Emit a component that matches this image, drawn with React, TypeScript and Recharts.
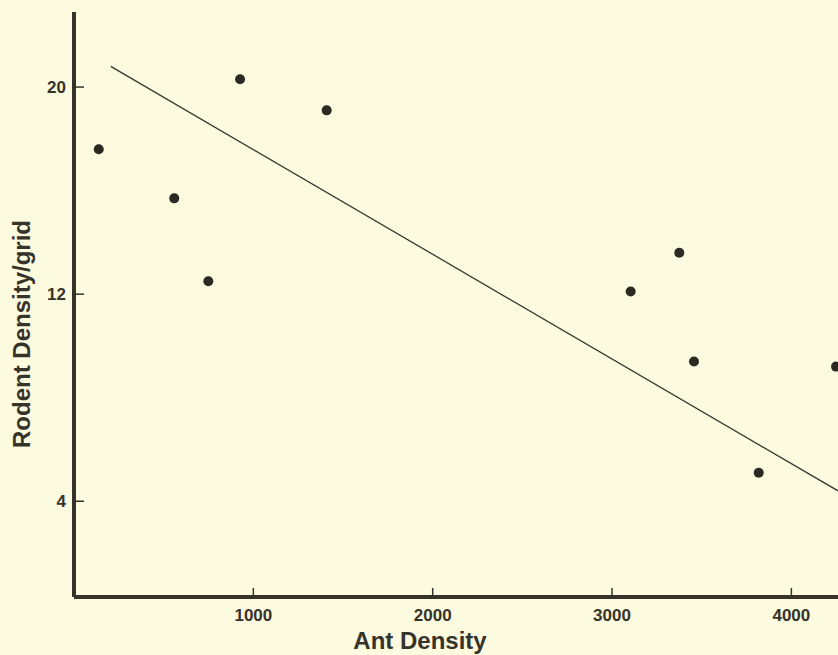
import React from 'react';
import {
  ComposedChart,
  Scatter,
  Line,
  XAxis,
  YAxis,
  Label,
} from 'recharts';

// field observations (ants per plot vs rodents per grid)
const antDensity = [138, 559, 749, 926, 1409, 3104, 3375, 3457, 3818, 4249];
const rodentDensity = [17.6, 15.7, 12.5, 20.3, 19.1, 12.1, 13.6, 9.4, 5.1, 9.2];

// fitted regression line end points
const fitX = [205, 4260];
const fitY = [20.8, 4.4];

const xTicks = [1000, 2000, 3000, 4000];
const yTicks = [4, 12, 20];

const points = antDensity.map((x, i) => ({ x, y: rodentDensity[i] }));
const fitLine = fitX.map((x, i) => ({ x, y: fitY[i] }));

const INK = '#36332a';
const BG = '#fcfadf';
const FONT = '"Liberation Sans", Arial, Helvetica, sans-serif';

const XTick = (props: any) => {
  const { x, y, payload } = props;
  return (
    <g>
      <line x1={x} y1={y} x2={x} y2={y - 11} stroke={INK} strokeWidth={1.5} />
      <text x={x} y={y + 22} textAnchor="middle" fontSize={17} fontWeight={700} fill={INK} fontFamily={FONT}>
        {payload.value}
      </text>
    </g>
  );
};

const YTick = (props: any) => {
  const { x, y, payload } = props;
  return (
    <g>
      <line x1={x} y1={y} x2={x + 12} y2={y} stroke={INK} strokeWidth={1.5} />
      <text x={x - 6} y={y + 6} textAnchor="end" fontSize={17} fontWeight={700} fill={INK} fontFamily={FONT}>
        {payload.value}
      </text>
    </g>
  );
};

export default function App() {
  return (
    <div style={{ position: 'absolute', left: 0, top: 0, width: 838, height: 655, background: BG }}>
      <ComposedChart width={838} height={655} margin={{ top: 12, right: 0, bottom: 0, left: 0 }}>
        <XAxis
          type="number"
          dataKey="x"
          domain={[0, 4260]}
          ticks={xTicks}
          height={58}
          axisLine={{ stroke: INK, strokeWidth: 4 }}
          tickLine={false}
          tickSize={0}
          tick={<XTick />}
        >
          <Label
            content={() => (
              <text x={420} y={649} textAnchor="middle" fontSize={24} fontWeight={700} fill={INK} fontFamily={FONT}>
                Ant Density
              </text>
            )}
          />
        </XAxis>
        <YAxis
          type="number"
          dataKey="y"
          domain={[0.3, 22.9]}
          ticks={yTicks}
          width={74}
          axisLine={{ stroke: INK, strokeWidth: 4 }}
          tickLine={false}
          tickSize={0}
          tick={<YTick />}
        >
          <Label
            content={() => (
              <text
                transform="translate(30, 334) rotate(-90)"
                textAnchor="middle"
                fontSize={24}
                fontWeight={700}
                fill={INK}
                fontFamily={FONT}
              >
                Rodent Density/grid
              </text>
            )}
          />
        </YAxis>
        <Line
          data={fitLine}
          dataKey="y"
          stroke="#3a372e"
          strokeWidth={1.3}
          dot={false}
          activeDot={false}
          isAnimationActive={false}
        />
        <Scatter
          data={points}
          isAnimationActive={false}
          shape={(p: any) => <circle cx={p.cx} cy={p.cy} r={5} fill="#2b2922" />}
        />
      </ComposedChart>
    </div>
  );
}
